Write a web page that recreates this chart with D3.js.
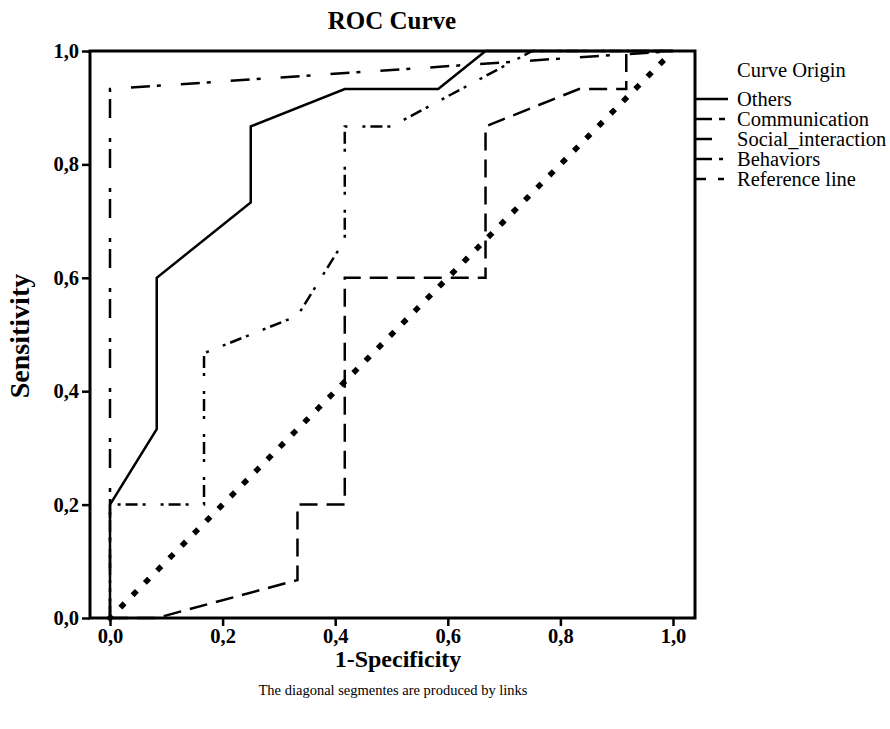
<!DOCTYPE html>
<html>
<head>
<meta charset="utf-8">
<script src="https://cdn.jsdelivr.net/npm/d3@7"></script>
<style>
  body { margin: 0; background: #fff; }
  svg text { font-family: "Liberation Serif", "Times New Roman", serif; fill: #000; }
</style>
</head>
<body>
<svg id="chart" width="890" height="729"></svg>
<script>
// ROC points (1-specificity, sensitivity)
var othersX = [0, 0, 0.083, 0.083, 0.25, 0.25, 0.417, 0.583, 0.667, 1];
var othersY = [0, 0.2, 0.333, 0.6, 0.733, 0.867, 0.933, 0.933, 1, 1];

var commX = [0, 0.083, 0.333, 0.333, 0.417, 0.417, 0.667, 0.667, 0.833, 0.917, 0.917, 1];
var commY = [0, 0, 0.067, 0.2, 0.2, 0.6, 0.6, 0.867, 0.933, 0.933, 1, 1];

var socialX = [0, 0, 1];
var socialY = [0, 0.933, 1];

var behavX = [0, 0, 0.167, 0.167, 0.333, 0.417, 0.417, 0.5, 0.75, 1];
var behavY = [0, 0.2, 0.2, 0.467, 0.533, 0.667, 0.867, 0.867, 1, 1];

var refX = [0, 1];
var refY = [0, 1];

var tickValues = [0, 0.2, 0.4, 0.6, 0.8, 1.0];
var legendLabels = ["Others", "Communication", "Social_interaction", "Behaviors", "Reference line"];

var svg = d3.select("#chart");

var x = d3.scaleLinear().domain([0, 1]).range([110, 673]);
var y = d3.scaleLinear().domain([0, 1]).range([618, 51]);

var box = { left: 90, right: 695, top: 51, bottom: 618 };
var fmt = function(d) { return d3.format(".1f")(d).replace(".", ","); };

// axes
var gx = svg.append("g")
  .attr("transform", "translate(0," + box.bottom + ")")
  .call(d3.axisBottom(x).tickValues(tickValues).tickFormat(fmt).tickSize(8).tickPadding(2));
var gy = svg.append("g")
  .attr("transform", "translate(" + box.left + ",0)")
  .call(d3.axisLeft(y).tickValues(tickValues).tickFormat(fmt).tickSize(8).tickPadding(3));

[gx, gy].forEach(function(g) {
  g.select(".domain").remove();
  g.selectAll(".tick line").attr("stroke", "#000").attr("stroke-width", 2.5);
  g.selectAll(".tick text")
    .style("font-family", '"Liberation Serif", serif')
    .style("font-size", "20.5px")
    .style("font-weight", "bold")
    .attr("fill", "#000");
});

// curves
var series = [
  { xs: othersX, ys: othersY, dash: null },
  { xs: commX, ys: commY, dash: "18,9" },
  { xs: socialX, ys: socialY, dash: "19,7,4,20" },
  { xs: behavX, ys: behavY, dash: "12,5,3,15,3,5" }
];

var line = d3.line().x(function(d) { return x(d[0]); }).y(function(d) { return y(d[1]); });

series.forEach(function(s) {
  var pts = s.xs.map(function(v, i) { return [v, s.ys[i]]; });
  svg.append("path")
    .attr("d", line(pts))
    .attr("fill", "none")
    .attr("stroke", "#000")
    .attr("stroke-width", 2.5)
    .attr("stroke-dasharray", s.dash);
});

// reference diagonal: short square-capped dashes on a 45deg line look like diamonds
svg.append("path")
  .attr("d", line(refX.map(function(v, i) { return [v, refY[i]]; })))
  .attr("fill", "none")
  .attr("stroke", "#000")
  .attr("stroke-width", 5.5)
  .attr("stroke-linecap", "square")
  .attr("stroke-dasharray", "0.6,16.8");

// frame
svg.append("rect")
  .attr("x", box.left).attr("y", box.top)
  .attr("width", box.right - box.left).attr("height", box.bottom - box.top)
  .attr("fill", "none").attr("stroke", "#000").attr("stroke-width", 3);

// legend
var legendDash = [null, "17,7,6,20", "17,30", "17,7,4,20", "11,12,6,20"];
svg.append("text")
  .attr("x", 737).attr("y", 77)
  .style("font-size", "20.5px")
  .text("Curve Origin");

legendLabels.forEach(function(lab, i) {
  var ly = 99 + i * 20;
  svg.append("line")
    .attr("x1", box.right).attr("x2", 728)
    .attr("y1", ly).attr("y2", ly)
    .attr("stroke", "#000").attr("stroke-width", 2.5)
    .attr("stroke-dasharray", legendDash[i]);
  svg.append("text")
    .attr("x", 737).attr("y", ly + 7)
    .style("font-size", "20.5px")
    .text(lab);
});

// titles
svg.append("text")
  .attr("x", 392).attr("y", 29)
  .attr("text-anchor", "middle")
  .style("font-size", "25px").style("font-weight", "bold")
  .text("ROC Curve");

svg.append("text")
  .attr("transform", "translate(29,336) rotate(-90)")
  .attr("text-anchor", "middle")
  .style("font-size", "28px").style("font-weight", "bold")
  .text("Sensitivity");

svg.append("text")
  .attr("x", 398).attr("y", 667)
  .attr("text-anchor", "middle")
  .style("font-size", "24px").style("font-weight", "bold")
  .text("1-Specificity");

svg.append("text")
  .attr("x", 393).attr("y", 695)
  .attr("text-anchor", "middle")
  .style("font-size", "14.5px")
  .text("The diagonal segmentes are produced by links");
</script>
</body>
</html>
